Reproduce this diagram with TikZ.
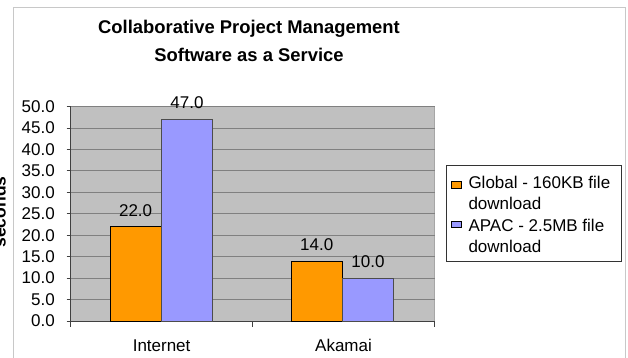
\documentclass[tikz,border=0pt]{standalone}
\usepackage{fontspec}
\setmainfont{Liberation Sans}
\definecolor{plotgray}{HTML}{C0C0C0}
\definecolor{gridgray}{HTML}{808080}
\definecolor{framegray}{HTML}{C8C8C8}
\definecolor{barorange}{HTML}{FF9900}
\definecolor{barblue}{HTML}{9999FF}
\begin{document}
\begin{tikzpicture}[x=1pt,y=-1pt,
  txt/.style={inner sep=0pt,font=\fontsize{17}{20}\selectfont},
  titletxt/.style={inner sep=0pt,font=\bfseries\fontsize{18.4}{22}\selectfont},
  gridln/.style={draw=gridgray,line width=0.9pt},
  axisln/.style={draw=black!75,line width=0.9pt},
  obar/.style={fill=barorange,draw=black,line width=0.7pt},
  bbar/.style={fill=barblue,draw=black!70,line width=0.7pt},
  legmark/.style={draw=black,line width=0.6pt}]
\useasboundingbox (0,0) rectangle (628,357);
\fill[white] (0,0) rectangle (628,357);
% chart frame
\draw[framegray,line width=1pt] (13.5,370) -- (13.5,7.5) -- (625.5,7.5) -- (625.5,370);
% title
\node[titletxt,anchor=base] (title1) at (249,33) {Collaborative Project Management};
\node[titletxt,anchor=base] (title2) at (249,61.3) {Software as a Service};
% plot area
\fill[plotgray] (70.7,106.5) rectangle (434.5,321);
\draw[gridgray!70,line width=0.8pt] (434.5,106.5) -- (434.5,321);
\foreach \v in {5,10,...,50}{
  \draw[gridln] (70.7,{321-4.29*\v}) -- (434.5,{321-4.29*\v});
}
% axes
\draw[axisln] (70.7,106.5) -- (70.7,321);
\foreach \v/\t in {0/0.0,5/5.0,10/10.0,15/15.0,20/20.0,25/25.0,30/30.0,35/35.0,40/40.0,45/45.0,50/50.0}{
  \draw[axisln] (66.5,{321-4.29*\v}) -- (70.7,{321-4.29*\v});
  \node[txt,anchor=east] (tick\v) at (55,{321-4.29*\v}) {\t};
}
\draw[axisln] (70.7,321) -- (434.5,321);
\foreach \x in {70.7,252.6,434.5}{
  \draw[axisln] (\x,321) -- (\x,327);
}
% bars
\draw[obar] (110,321) rectangle (161.3,{321-4.29*22});
\draw[bbar] (161.3,321) rectangle (212.7,{321-4.29*47});
\draw[obar] (291,321) rectangle (342.3,{321-4.29*14});
\draw[bbar] (342.3,321) rectangle (393.6,{321-4.29*10});
% value labels
\node[txt,anchor=base] (v1) at (135.6,{321-4.29*22-10.3}) {22.0};
\node[txt,anchor=base] (v2) at (187,{321-4.29*47-10.8}) {47.0};
\node[txt,anchor=base] (v3) at (316.7,{321-4.29*14-10.5}) {14.0};
\node[txt,anchor=base] (v4) at (368,{321-4.29*10-10.5}) {10.0};
% category labels
\node[txt,anchor=base] (c1) at (161.6,351.8) {Internet};
\node[txt,anchor=base] (c2) at (343.5,351.2) {Akamai};
% axis title (cut off at the left edge, as in the reference)
\node[inner sep=0pt,font=\bfseries\fontsize{17.5}{20}\selectfont,rotate=90,anchor=base] (ytitle) at (5.5,212) {seconds};
% legend
\draw[black!80,fill=white,line width=0.9pt] (446.7,165.7) rectangle (621.7,261.7);
\draw[legmark,fill=barorange] (451,181.5) rectangle (461,188);
\draw[legmark,fill=barblue] (451,221) rectangle (461,227.5);
\node[txt,anchor=base west] (l1) at (468.3,188.3) {Global - 160KB file};
\node[txt,anchor=base west] (l2) at (468.3,209.3) {download};
\node[txt,anchor=base west] (l3) at (468.3,231) {APAC - 2.5MB file};
\node[txt,anchor=base west] (l4) at (468.3,252.5) {download};
\end{tikzpicture}
\end{document}
